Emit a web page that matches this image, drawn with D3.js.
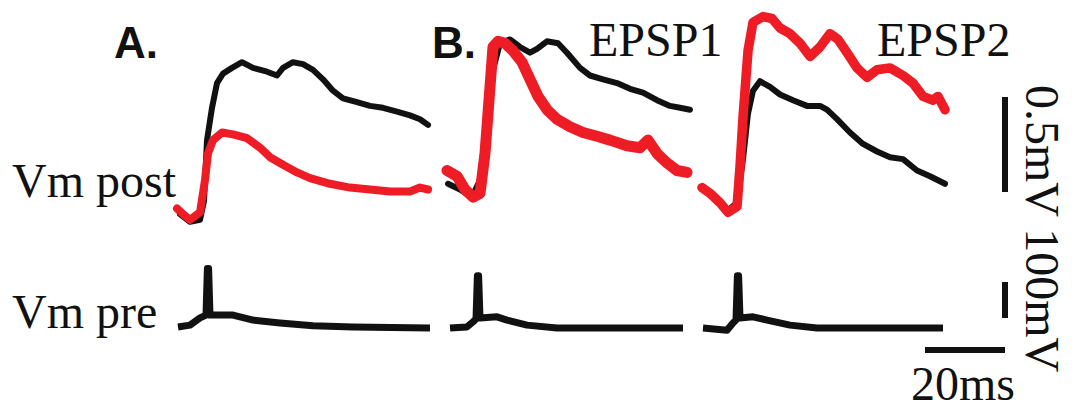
<!DOCTYPE html>
<html>
<head>
<meta charset="utf-8">
<script src="https://cdn.jsdelivr.net/npm/d3@7"></script>
<style>
  html, body { margin: 0; padding: 0; background: #fff; }
  svg { display: block; }
</style>
</head>
<body>
<div id="chart"></div>
<script>
// traces: [time ms from sweep start, Vm change]
// post traces in mV, pre traces in mV
const panelLabels = ["A.", "B."];
const eventLabels = ["EPSP1", "EPSP2"];
const rowLabels = ["Vm post", "Vm pre"];
const scaleLabels = { post: "0.5mV", pre: "100mV", time: "20ms" };

const postBlackA = [[0.75,0.02],[3.25,-0.02],[5.75,-0.01],[6.75,0.09],[7.5,0.41],[8.75,0.58],[10,0.71],[11.5,0.76],[13.75,0.79],[16.25,0.82],[19,0.79],[22.5,0.77],[25,0.75],[26.5,0.79],[29,0.82],[31.5,0.81],[34,0.78],[36.5,0.73],[39,0.67],[41.5,0.63],[45,0.61],[48.25,0.59],[51.5,0.58],[55,0.56],[58.25,0.54],[60.75,0.52],[62.75,0.49]];
const postRedA = [[0,0.05],[1.5,0.02],[3.25,-0.01],[5.75,0.03],[7,0.2],[7.75,0.34],[9,0.41],[11.25,0.45],[14,0.44],[17.5,0.42],[20.75,0.37],[23.25,0.32],[26.5,0.28],[30,0.24],[33.25,0.21],[38.25,0.18],[43.25,0.16],[48.25,0.15],[53.25,0.14],[58.25,0.14],[60.75,0.16],[62.75,0.15]];

const postBlackB = [[0.25,0.18],[3.25,0.15],[6.25,0.11],[8.25,0.2],[10,0.52],[11.5,0.78],[13.25,0.92],[15.75,0.94],[18.25,0.9],[20.75,0.87],[22.5,0.89],[25,0.93],[27.75,0.92],[30,0.87],[33.25,0.79],[35.75,0.75],[39,0.73],[42.5,0.71],[45.75,0.68],[49,0.66],[52.5,0.62],[55.75,0.59],[58.25,0.58],[60.75,0.57]];
const postRedB = [[0,0.25],[2.5,0.22],[4.5,0.15],[6.5,0.11],[8.25,0.13],[9.5,0.34],[10.75,0.69],[11.5,0.9],[12.75,0.93],[14.5,0.92],[16.5,0.88],[18.75,0.82],[20.75,0.73],[22.75,0.64],[25,0.57],[27.5,0.52],[30.75,0.48],[34,0.45],[37.5,0.43],[40.75,0.41],[45,0.38],[48.25,0.37],[50.25,0.41],[52.5,0.34],[55,0.29],[57.5,0.25],[60,0.24]];

const postBlackC = [[0.25,0.15],[3.25,0.11],[6.5,0.04],[8.75,0.08],[10.25,0.31],[11.5,0.55],[12.75,0.67],[14.5,0.72],[17,0.69],[19.5,0.65],[22.75,0.62],[26.25,0.59],[29.5,0.59],[31.25,0.57],[33.75,0.52],[37,0.45],[40.25,0.39],[43.75,0.35],[47,0.32],[50.25,0.31],[53.75,0.25],[57,0.22],[60.75,0.18]];
const postRedC = [[0,0.16],[2,0.13],[4.5,0.08],[6.5,0.03],[8.75,0.06],[9.5,0.27],[10.25,0.53],[11.5,0.88],[12.75,1.03],[15.25,1.06],[17.5,1.05],[19.5,1.0],[22,0.97],[24.5,0.92],[27,0.85],[29.5,0.9],[32,0.97],[34,0.94],[36.25,0.87],[38.75,0.79],[41.25,0.74],[43.75,0.78],[47,0.79],[50.25,0.75],[52.75,0.71],[55.25,0.64],[57.75,0.62],[59,0.64],[60.75,0.57]];

const preA = [[0.25,3],[3.25,8],[5.75,28],[7.25,36],[7.6,165],[7.9,165],[8.25,36],[10.75,36],[14,36],[19,22],[25.75,14],[34,6],[44,3],[63.25,0]];
const preB = [[0.75,0],[5,3],[6.5,17],[7.25,25],[7.6,145],[7.9,145],[8.25,28],[12.5,31],[15,22],[20,8],[27.5,0],[59,0]];
const preC = [[0.25,0],[6.25,-6],[7.75,14],[8.5,22],[8.85,145],[9.15,145],[9.5,28],[12.75,31],[16.25,22],[22,8],[28.75,0],[60.25,0]];

const W = 1076, H = 409;
const black = "#111", red = "#ee1c25";
const serif = "'Liberation Serif', 'Times New Roman', serif";

const svg = d3.select("#chart").append("svg")
  .attr("width", W).attr("height", H);

// shared vertical scales (px per mV)
const yPost = d3.scaleLinear().domain([0, 0.5]).range([218, 123]);
const yPre = d3.scaleLinear().domain([0, 100]).range([328, 292]);

const panels = [
  { x0: 177, black: postBlackA, red: postRedA, pre: preA, redW: 8 },
  { x0: 447, black: postBlackB, red: postRedB, pre: preB, redW: 11 },
  { x0: 702, black: postBlackC, red: postRedC, pre: preC, redW: 9.5 }
];

panels.forEach(p => {
  const x = d3.scaleLinear().domain([0, 20]).range([p.x0, p.x0 + 80]);
  const postLine = d3.line().x(d => x(d[0])).y(d => yPost(d[1]));
  const preLine = d3.line().x(d => x(d[0])).y(d => yPre(d[1]));
  const g = svg.append("g");

  g.append("path").attr("d", postLine(p.black))
    .attr("fill", "none").attr("stroke", black).attr("stroke-width", 6)
    .attr("stroke-linejoin", "round").attr("stroke-linecap", "round");
  g.append("path").attr("d", postLine(p.red))
    .attr("fill", "none").attr("stroke", red).attr("stroke-width", p.redW)
    .attr("stroke-linejoin", "round").attr("stroke-linecap", "round");
  g.append("path").attr("d", preLine(p.pre))
    .attr("fill", "none").attr("stroke", black).attr("stroke-width", 7)
    .attr("stroke-linejoin", "round").attr("stroke-linecap", "butt");
});

// scale bars
const xBar = d3.scaleLinear().domain([0, 20]).range([925, 1005]);
const barX = 1005;
svg.append("line")
  .attr("x1", barX).attr("x2", barX)
  .attr("y1", 97).attr("y2", 97 + (yPost(0) - yPost(0.5)))
  .attr("stroke", black).attr("stroke-width", 6);
svg.append("line")
  .attr("x1", barX).attr("x2", barX)
  .attr("y1", 282).attr("y2", 282 + (yPre(0) - yPre(100)))
  .attr("stroke", black).attr("stroke-width", 6);
svg.append("line")
  .attr("x1", xBar(0)).attr("x2", xBar(20))
  .attr("y1", 350).attr("y2", 350)
  .attr("stroke", black).attr("stroke-width", 6);

// text
const txt = (s, x, y, opts = {}) => svg.append("text")
  .attr("x", x).attr("y", y)
  .attr("font-family", opts.family || serif)
  .attr("font-size", opts.size || 48)
  .attr("font-weight", opts.weight || "normal")
  .attr("fill", black)
  .text(s);

txt(panelLabels[0], 114, 58, { family: "'Liberation Sans', Arial, sans-serif", size: 44, weight: "bold" });
txt(panelLabels[1], 432, 58, { family: "'Liberation Sans', Arial, sans-serif", size: 44, weight: "bold" });
txt(eventLabels[0], 589, 56);
txt(eventLabels[1], 877, 56);
txt(rowLabels[0], 12, 197);
txt(rowLabels[1], 12, 328);
txt(scaleLabels.time, 911, 400);

svg.append("text")
  .attr("transform", "translate(1026,85) rotate(90)")
  .attr("font-family", serif).attr("font-size", 48)
  .attr("fill", black)
  .text(scaleLabels.post + " " + scaleLabels.pre);
</script>
</body>
</html>
